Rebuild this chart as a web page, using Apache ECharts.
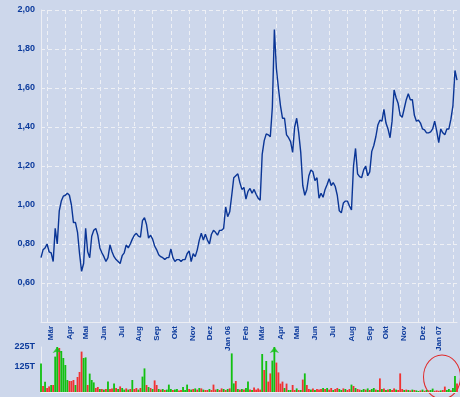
<!DOCTYPE html>
<html>
<head>
<meta charset="utf-8">
<script src="https://cdn.jsdelivr.net/npm/echarts@6/dist/echarts.min.js"></script>
<style>
  html, body { margin: 0; padding: 0; background: #cdd7eb; }
  #chart { width: 460px; height: 397px; }
</style>
</head>
<body>
<div id="chart"></div>
<script>
// quotes sampled twice a week (Mon / Thu), starting Mon 21.02.2005
const startDate = '2005-02-21';
const monthNames = ['Jan', 'Feb', 'Mär', 'Apr', 'Mai', 'Jun', 'Jul', 'Aug', 'Sep', 'Okt', 'Nov', 'Dez'];

const price = [
  0.73, 0.77, 0.78, 0.80, 0.76, 0.755, 0.71, 0.88, 0.80, 0.97,
  1.02, 1.045, 1.05, 1.06, 1.05, 1.00, 0.91, 0.91, 0.86, 0.75,
  0.66, 0.70, 0.88, 0.76, 0.73, 0.84, 0.87, 0.88, 0.845, 0.78,
  0.755, 0.735, 0.71, 0.73, 0.795, 0.76, 0.735, 0.72, 0.71, 0.70,
  0.74, 0.755, 0.795, 0.78, 0.80, 0.825, 0.845, 0.855, 0.84, 0.835,
  0.92, 0.935, 0.90, 0.83, 0.845, 0.825, 0.79, 0.77, 0.745, 0.735,
  0.73, 0.72, 0.73, 0.73, 0.775, 0.73, 0.71, 0.72, 0.72, 0.71,
  0.72, 0.72, 0.75, 0.765, 0.71, 0.75, 0.735, 0.77, 0.82, 0.855,
  0.82, 0.85, 0.82, 0.80, 0.85, 0.87, 0.86, 0.845, 0.87, 0.87,
  0.88, 0.99, 0.94, 0.965, 1.05, 1.14, 1.15, 1.16, 1.115, 1.08,
  1.09, 1.03, 1.07, 1.085, 1.06, 1.08, 1.055, 1.035, 1.025, 1.26,
  1.33, 1.365, 1.36, 1.35, 1.50, 1.90, 1.70, 1.60, 1.51, 1.445,
  1.445, 1.36, 1.345, 1.325, 1.27, 1.40, 1.445, 1.37, 1.27, 1.10,
  1.05, 1.08, 1.15, 1.18, 1.17, 1.125, 1.14, 1.035, 1.06, 1.04,
  1.08, 1.105, 1.135, 1.10, 1.115, 1.095, 1.05, 0.97, 0.96, 1.01,
  1.02, 1.02, 0.995, 0.975, 1.20, 1.29, 1.16, 1.145, 1.14, 1.18,
  1.20, 1.15, 1.17, 1.275, 1.305, 1.35, 1.41, 1.435, 1.43, 1.49,
  1.42, 1.39, 1.345, 1.43, 1.59, 1.55, 1.52, 1.46, 1.45, 1.495,
  1.54, 1.57, 1.54, 1.54, 1.46, 1.43, 1.435, 1.42, 1.39, 1.385,
  1.37, 1.37, 1.375, 1.39, 1.43, 1.38, 1.32, 1.39, 1.37, 1.36,
  1.39, 1.39, 1.44, 1.51, 1.69, 1.64
];

// volume in thousands (T)
const volume = [
  143, 30, 51, 20, 28, 35, 35, 177, 240, 220,
  205, 170, 135, 60, 55, 55, 60, 35, 75, 100,
  202, 170, 173, 35, 92, 60, 48, 20, 25, 15,
  15, 12, 15, 52, 15, 18, 43, 20, 15, 28,
  20, 12, 18, 12, 15, 60, 15, 20, 12, 20,
  77, 118, 35, 25, 20, 15, 58, 35, 15, 12,
  15, 10, 12, 37, 15, 10, 12, 15, 8, 10,
  25, 10, 37, 15, 12, 15, 18, 12, 20, 18,
  12, 10, 10, 15, 10, 37, 12, 15, 10, 18,
  15, 10, 15, 18, 193, 43, 55, 15, 12, 15,
  12, 20, 52, 12, 10, 23, 12, 18, 12, 190,
  110, 155, 52, 93, 157, 240, 147, 98, 42, 52,
  20, 42, 10, 10, 35, 10, 18, 10, 10, 62,
  93, 35, 15, 12, 18, 10, 15, 12, 15, 20,
  15, 20, 12, 20, 10, 15, 20, 15, 10, 18,
  15, 10, 15, 37, 30, 20, 15, 12, 10, 15,
  12, 18, 10, 15, 20, 12, 10, 68, 15, 18,
  10, 12, 15, 10, 18, 12, 10, 93, 15, 10,
  12, 10, 8, 12, 10, 8, 5, 8, 12, 6,
  10, 8, 10, 17, 6, 8, 6, 8, 10, 27,
  10, 15, 8, 20, 80, 43
];

// 1 = day closed up (green), 0 = down (red)
const volUp = [
  1, 0, 1, 0, 0, 1, 0, 1, 1, 0,
  1, 1, 1, 1, 0, 0, 0, 1, 0, 0,
  0, 1, 1, 0, 1, 1, 1, 0, 0, 1,
  0, 1, 0, 1, 0, 0, 1, 0, 1, 0,
  1, 1, 0, 1, 0, 1, 0, 0, 1, 0,
  1, 1, 0, 1, 0, 1, 0, 0, 1, 0,
  1, 0, 1, 1, 1, 0, 1, 1, 0, 0,
  1, 1, 1, 0, 1, 0, 1, 0, 1, 0,
  1, 0, 0, 1, 0, 0, 0, 1, 0, 0,
  1, 0, 1, 0, 1, 1, 0, 1, 0, 1,
  0, 1, 1, 0, 1, 0, 0, 0, 0, 1,
  0, 1, 0, 0, 1, 1, 0, 0, 0, 0,
  1, 0, 1, 1, 0, 0, 1, 0, 1, 0,
  1, 0, 0, 1, 0, 1, 0, 0, 0, 1,
  0, 1, 0, 0, 1, 0, 0, 1, 1, 0,
  1, 0, 0, 1, 0, 1, 0, 0, 1, 1,
  0, 1, 0, 1, 1, 0, 1, 0, 1, 0,
  1, 0, 1, 0, 0, 1, 0, 0, 0, 1,
  0, 1, 0, 1, 0, 1, 1, 0, 1, 0,
  1, 0, 1, 1, 0, 0, 0, 1, 0, 0,
  1, 1, 0, 1, 1, 0
];

const volMax = 225;
const volTicks = [125, 225];

// trading dates: Mon, Thu, Mon, Thu ...
const dates = [];
let day = new Date(startDate + 'T00:00:00Z');
while (dates.length < price.length) {
  dates.push(day.toISOString().slice(0, 10));
  day = new Date(day.getTime() + (dates.length % 2 ? 3 : 4) * 86400000);
}

const isMonthStart = (i) => i > 0 && dates[i].slice(5, 7) !== dates[i - 1].slice(5, 7);

const monthLabel = (value) => {
  const m = +value.slice(5, 7);
  return m === 1 ? 'Jan ' + value.slice(2, 4) : monthNames[m - 1];
};

const bg = '#cdd7eb';
const axisColor = '#eceef4';
const gridColor = '#eef0f5';
const textColor = '#0b3a9c';
const lineColor = '#0a3596';
const upColor = '#12c012';
const downColor = '#f03232';
const font = 'Liberation Sans';

const chart = echarts.init(document.getElementById('chart'));

chart.setOption({
  backgroundColor: bg,
  animation: false,
  grid: [
    { left: 41, right: 3, top: 10, bottom: 75, outerBoundsMode: 'none' },
    { left: 41, right: 3, top: 347, bottom: 5, outerBoundsMode: 'none' }
  ],
  xAxis: [
    {
      type: 'category',
      gridIndex: 0,
      data: dates,
      boundaryGap: false,
      axisLine: { lineStyle: { color: axisColor, width: 1 } },
      axisTick: { show: false },
      axisLabel: {
        interval: (i) => isMonthStart(i) && i < dates.length - 5,
        formatter: monthLabel,
        rotate: 90,
        margin: 4,
        verticalAlign: 'top',
        color: textColor,
        fontFamily: font,
        fontWeight: 'bold',
        fontSize: 8
      },
      splitLine: {
        show: true,
        interval: (i) => isMonthStart(i),
        lineStyle: { color: gridColor, type: [4, 3], width: 1 }
      }
    },
    {
      type: 'category',
      gridIndex: 1,
      data: dates,
      boundaryGap: false,
      axisLine: { lineStyle: { color: axisColor, width: 1 } },
      axisTick: { show: false },
      axisLabel: { show: false },
      splitLine: { show: false }
    }
  ],
  yAxis: [
    {
      type: 'value',
      gridIndex: 0,
      min: 0.4,
      max: 2.0,
      interval: 0.2,
      axisLine: { show: true, lineStyle: { color: axisColor, width: 1 } },
      axisTick: { show: false },
      axisLabel: {
        showMinLabel: false,
        formatter: (v) => v.toFixed(2).replace('.', ','),
        margin: 6,
        color: textColor,
        fontFamily: font,
        fontWeight: 'bold',
        fontSize: 9
      },
      splitLine: { lineStyle: { color: gridColor, type: [4, 3], width: 1 } }
    },
    {
      type: 'value',
      gridIndex: 1,
      min: 0,
      max: volMax,
      axisLine: { show: true, lineStyle: { color: axisColor, width: 1 } },
      axisTick: { show: false },
      axisLabel: {
        customValues: volTicks,
        formatter: '{value}T',
        margin: 6,
        color: textColor,
        fontFamily: font,
        fontWeight: 'bold',
        fontSize: 9
      },
      splitLine: { show: false }
    }
  ],
  series: [
    {
      type: 'line',
      xAxisIndex: 0,
      yAxisIndex: 0,
      data: price,
      showSymbol: false,
      silent: true,
      lineStyle: { color: lineColor, width: 1.4 }
    },
    {
      type: 'bar',
      xAxisIndex: 1,
      yAxisIndex: 1,
      barCategoryGap: '10%',
      silent: true,
      data: volume.map((v, i) => ({
        value: v,
        itemStyle: { color: volUp[i] ? upColor : downColor }
      }))
    },
    {
      // arrows for bars running off the top of the volume panel
      type: 'scatter',
      xAxisIndex: 1,
      yAxisIndex: 1,
      silent: true,
      symbol: 'arrow',
      symbolSize: [7, 6],
      symbolOffset: [0, 0],
      data: volume.map((v, i) => (v > volMax ? [i, volMax] : null)).filter(Boolean),
      itemStyle: { color: upColor }
    }
  ],
  graphic: [
    {
      type: 'circle',
      x: 442,
      y: 377,
      scaleX: 0.84,
      silent: true,
      shape: { cx: 0, cy: 0, r: 22 },
      style: { fill: 'none', stroke: '#e02828', lineWidth: 1.2 }
    }
  ]
});
</script>
</body>
</html>
